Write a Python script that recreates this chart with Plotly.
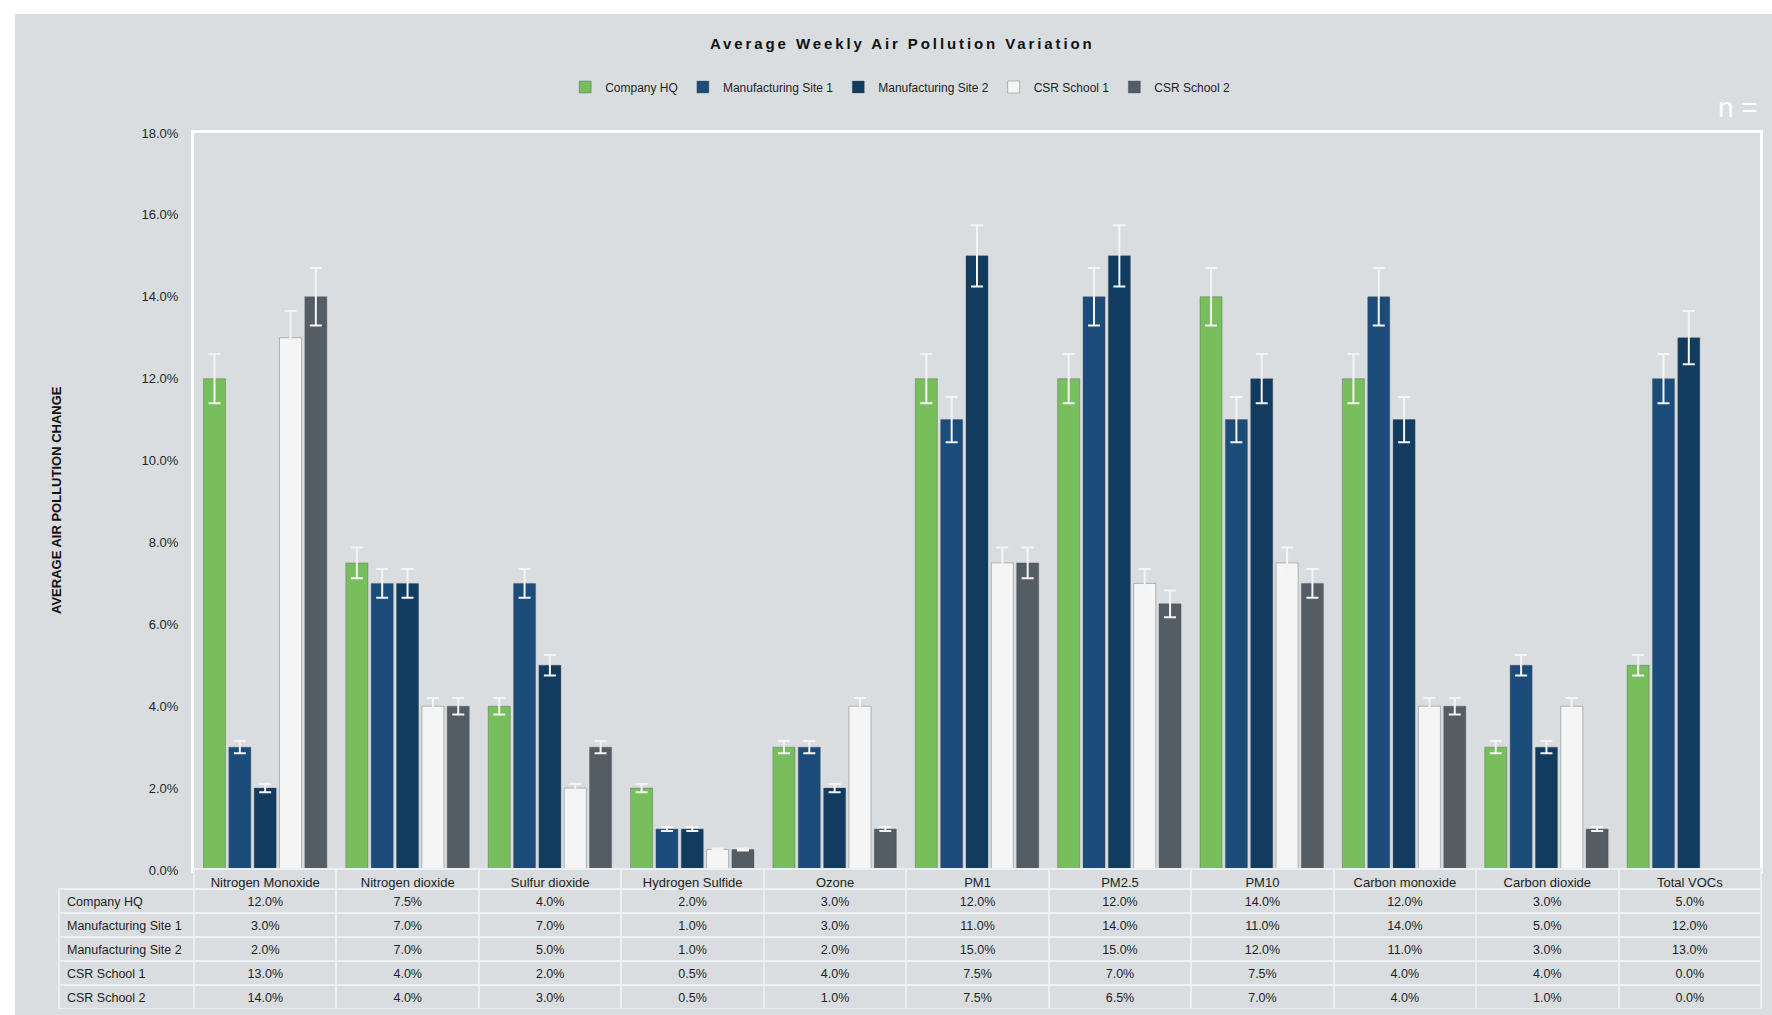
import plotly.graph_objects as go

# ---------------- data ----------------
categories = ["Nitrogen Monoxide", "Nitrogen dioxide", "Sulfur dioxide", "Hydrogen Sulfide",
              "Ozone", "PM1", "PM2.5", "PM10", "Carbon monoxide", "Carbon dioxide", "Total VOCs"]
series_names = ["Company HQ", "Manufacturing Site 1", "Manufacturing Site 2", "CSR School 1", "CSR School 2"]
company_hq = [12.0, 7.5, 4.0, 2.0, 3.0, 12.0, 12.0, 14.0, 12.0, 3.0, 5.0]
manufacturing_site_1 = [3.0, 7.0, 7.0, 1.0, 3.0, 11.0, 14.0, 11.0, 14.0, 5.0, 12.0]
manufacturing_site_2 = [2.0, 7.0, 5.0, 1.0, 2.0, 15.0, 15.0, 12.0, 11.0, 3.0, 13.0]
csr_school_1 = [13.0, 4.0, 2.0, 0.5, 4.0, 7.5, 7.0, 7.5, 4.0, 4.0, 0.0]
csr_school_2 = [14.0, 4.0, 3.0, 0.5, 1.0, 7.5, 6.5, 7.0, 4.0, 1.0, 0.0]
y_ticks = [0, 2, 4, 6, 8, 10, 12, 14, 16, 18]
y_tick_labels = ["0.0%", "2.0%", "4.0%", "6.0%", "8.0%", "10.0%", "12.0%", "14.0%", "16.0%", "18.0%"]
error_percent = 5  # percentage error bars

series_values = [company_hq, manufacturing_site_1, manufacturing_site_2, csr_school_1, csr_school_2]
series_colors = ["#78be5d", "#1c4d7a", "#123c5f", "#f5f5f5", "#545c64"]

# ---------------- geometry (pixels) ----------------
W, H = 1772, 1015
def px(x):
    return x / W
def py(y):
    return 1 - y / H

BG = "#d9dde0"
GRID = "#eceef0"
FONT = "Liberation Sans, Arial, sans-serif"

fig = go.Figure()

for name, vals, col in zip(series_names, series_values, series_colors):
    fig.add_trace(go.Bar(
        x=categories, y=vals, name=name,
        marker=dict(color=col, line=dict(color="rgba(70,75,80,0.35)", width=1)),
        error_y=dict(type="percent", value=error_percent, color="#f4f4f4", thickness=2, width=6),
        xaxis="x", yaxis="y",
    ))

# data table below the chart
header_vals = [""] + categories
cell_cols = [series_names] + [[s[i] for s in series_values] for i in range(len(categories))]
fig.add_trace(go.Table(
    domain=dict(x=[px(59), px(1761)], y=[py(1009), py(869)]),
    columnwidth=[135] + [142.4] * len(categories),
    header=dict(values=header_vals, height=20,
                fill=dict(color=["rgba(0,0,0,0)"] + [BG] * len(categories)),
                line=dict(color=["rgba(0,0,0,0)"] + [GRID] * len(categories), width=2),
                align="center",
                font=dict(family=FONT, size=13, color="#1e1e1e")),
    cells=dict(values=cell_cols, height=24,
               format=[None] + [".1f"] * len(categories),
               suffix=[None] + ["%"] * len(categories),
               fill=dict(color=BG),
               line=dict(color=GRID, width=2),
               align=["left"] + ["center"] * len(categories),
               font=dict(family=FONT, size=12.5, color="#1e1e1e")),
))

fig.update_layout(
    width=W, height=H,
    margin=dict(l=0, r=0, t=0, b=0),
    paper_bgcolor="white",
    plot_bgcolor=BG,
    barmode="group",
    bargap=0.11,
    bargroupgap=0.13,
    font=dict(family=FONT, color="#1e1e1e"),
    showlegend=True,
    legend=dict(orientation="h", x=0.508, xanchor="center", y=py(87), yanchor="middle",
                font=dict(family=FONT, size=12, color="#1e1e1e"),
                bgcolor="rgba(0,0,0,0)", itemclick=False, traceorder="normal",
                tracegroupgap=0),
    xaxis=dict(domain=[px(194), px(1760)], showticklabels=False, ticks="",
               showgrid=False, zeroline=False, showline=True, linecolor="white",
               linewidth=3, mirror=True, automargin=False),
    yaxis=dict(domain=[py(870), py(133)], range=[0, 18], tickmode="array",
               tickvals=y_ticks, ticktext=y_tick_labels, ticks="", showgrid=False,
               zeroline=False, showline=True, linecolor="white", linewidth=3,
               mirror=True, automargin=False, ticklabelstandoff=10,
               tickfont=dict(family=FONT, size=13, color="#262626")),
    shapes=[dict(type="rect", xref="paper", yref="paper", layer="below",
                 x0=px(15), x1=1, y0=0, y1=py(14),
                 fillcolor=BG, line=dict(width=0))],
    annotations=[
        dict(text="<b>Average Weekly Air Pollution Variation</b>", xref="paper", yref="paper",
             x=px(902), y=py(43), xanchor="center", yanchor="middle", showarrow=False,
             font=dict(family=FONT, size=15, color="#111111")),
        dict(text="<b>AVERAGE AIR POLLUTION CHANGE</b>", xref="paper", yref="paper",
             x=px(56), y=py(500), xanchor="center", yanchor="middle", showarrow=False,
             textangle=-90, font=dict(family=FONT, size=13, color="#111111")),
        dict(text="n =", xref="paper", yref="paper",
             x=px(1760), y=py(107), xanchor="right", yanchor="middle", showarrow=False,
             font=dict(family=FONT, size=28, color="white")),
    ],
)

post = """
document.body.style.margin='0';
var t=document.querySelectorAll('.annotation-text');
if(t.length){t[0].style.letterSpacing='2.9px';}
"""
fig.write_html("out.html", post_script=post, config={"displayModeBar": False})
